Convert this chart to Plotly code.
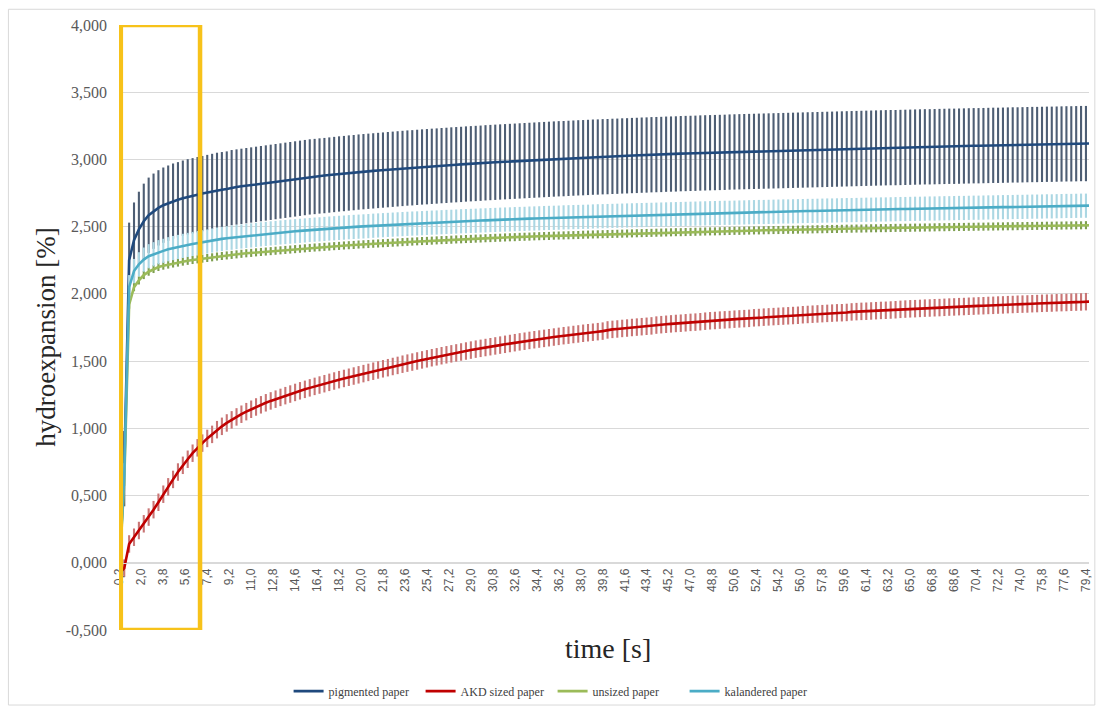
import plotly.graph_objects as go

# ---------------- data ----------------
TIME = [
    0.2, 0.6, 1.0, 1.4, 1.8, 2.2, 2.6, 3.0, 3.4, 3.8,
    4.2, 4.6, 5.0, 5.4, 5.8, 6.2, 6.6, 7.0, 7.4, 7.8,
    8.2, 8.6, 9.0, 9.4, 9.8, 10.2, 10.6, 11.0, 11.4, 11.8,
    12.2, 12.6, 13.0, 13.4, 13.8, 14.2, 14.6, 15.0, 15.4, 15.8,
    16.2, 16.6, 17.0, 17.4, 17.8, 18.2, 18.6, 19.0, 19.4, 19.8,
    20.2, 20.6, 21.0, 21.4, 21.8, 22.2, 22.6, 23.0, 23.4, 23.8,
    24.2, 24.6, 25.0, 25.4, 25.8, 26.2, 26.6, 27.0, 27.4, 27.8,
    28.2, 28.6, 29.0, 29.4, 29.8, 30.2, 30.6, 31.0, 31.4, 31.8,
    32.2, 32.6, 33.0, 33.4, 33.8, 34.2, 34.6, 35.0, 35.4, 35.8,
    36.2, 36.6, 37.0, 37.4, 37.8, 38.2, 38.6, 39.0, 39.4, 39.8,
    40.2, 40.6, 41.0, 41.4, 41.8, 42.2, 42.6, 43.0, 43.4, 43.8,
    44.2, 44.6, 45.0, 45.4, 45.8, 46.2, 46.6, 47.0, 47.4, 47.8,
    48.2, 48.6, 49.0, 49.4, 49.8, 50.2, 50.6, 51.0, 51.4, 51.8,
    52.2, 52.6, 53.0, 53.4, 53.8, 54.2, 54.6, 55.0, 55.4, 55.8,
    56.2, 56.6, 57.0, 57.4, 57.8, 58.2, 58.6, 59.0, 59.4, 59.8,
    60.2, 60.6, 61.0, 61.4, 61.8, 62.2, 62.6, 63.0, 63.4, 63.8,
    64.2, 64.6, 65.0, 65.4, 65.8, 66.2, 66.6, 67.0, 67.4, 67.8,
    68.2, 68.6, 69.0, 69.4, 69.8, 70.2, 70.6, 71.0, 71.4, 71.8,
    72.2, 72.6, 73.0, 73.4, 73.8, 74.2, 74.6, 75.0, 75.4, 75.8,
    76.2, 76.6, 77.0, 77.4, 77.8, 78.2, 78.6, 79.0, 79.4, 79.8,
]

PIGMENTED = [
    -0.05, 0.70, 2.25, 2.40, 2.48, 2.54, 2.585, 2.615, 2.64, 2.66,
    2.675, 2.69, 2.70, 2.712, 2.722, 2.73, 2.738, 2.746, 2.754, 2.762,
    2.77, 2.775, 2.78, 2.79, 2.795, 2.80, 2.805, 2.81, 2.815, 2.82,
    2.825, 2.83, 2.835, 2.84, 2.845, 2.85, 2.855, 2.86, 2.865, 2.87,
    2.873, 2.877, 2.88, 2.884, 2.888, 2.892, 2.895, 2.899, 2.902, 2.906,
    2.909, 2.912, 2.915, 2.918, 2.921, 2.924, 2.927, 2.93, 2.933, 2.936,
    2.938, 2.941, 2.944, 2.946, 2.949, 2.951, 2.954, 2.956, 2.959, 2.961,
    2.963, 2.966, 2.968, 2.970, 2.972, 2.975, 2.977, 2.979, 2.981, 2.983,
    2.985, 2.987, 2.989, 2.991, 2.993, 2.995, 2.997, 2.999, 3.001, 3.003,
    3.005, 3.006, 3.008, 3.010, 3.012, 3.013, 3.015, 3.017, 3.018, 3.020,
    3.021, 3.023, 3.024, 3.026, 3.027, 3.029, 3.030, 3.032, 3.033, 3.035,
    3.036, 3.037, 3.039, 3.040, 3.041, 3.043, 3.044, 3.045, 3.046, 3.048,
    3.049, 3.050, 3.051, 3.052, 3.053, 3.055, 3.056, 3.057, 3.058, 3.059,
    3.060, 3.061, 3.062, 3.063, 3.064, 3.065, 3.066, 3.067, 3.068, 3.069,
    3.070, 3.071, 3.072, 3.073, 3.074, 3.075, 3.076, 3.077, 3.078, 3.079,
    3.080, 3.081, 3.082, 3.083, 3.084, 3.085, 3.086, 3.087, 3.088, 3.088,
    3.089, 3.090, 3.091, 3.092, 3.093, 3.094, 3.094, 3.095, 3.096, 3.097,
    3.098, 3.098, 3.099, 3.100, 3.101, 3.102, 3.102, 3.103, 3.104, 3.105,
    3.105, 3.106, 3.107, 3.108, 3.108, 3.109, 3.110, 3.111, 3.111, 3.112,
    3.113, 3.113, 3.114, 3.115, 3.116, 3.116, 3.117, 3.118, 3.118, 3.119,
]

AKD_SIZED = [
    -0.08, -0.04, 0.14, 0.19, 0.24, 0.29, 0.34, 0.395, 0.45, 0.51,
    0.565, 0.62, 0.675, 0.725, 0.77, 0.815, 0.855, 0.89, 0.925, 0.955,
    0.99, 1.015, 1.04, 1.063, 1.085, 1.105, 1.124, 1.142, 1.159, 1.175,
    1.19, 1.204, 1.217, 1.23, 1.243, 1.255, 1.267, 1.279, 1.29, 1.301,
    1.312, 1.322, 1.332, 1.342, 1.352, 1.362, 1.371, 1.38, 1.389, 1.398,
    1.407, 1.416, 1.425, 1.434, 1.443, 1.451, 1.460, 1.468, 1.477, 1.485,
    1.493, 1.501, 1.509, 1.517, 1.525, 1.532, 1.540, 1.547, 1.554, 1.561,
    1.568, 1.575, 1.582, 1.589, 1.595, 1.601, 1.607, 1.613, 1.619, 1.625,
    1.631, 1.637, 1.643, 1.648, 1.654, 1.659, 1.664, 1.669, 1.674, 1.679,
    1.684, 1.689, 1.693, 1.698, 1.702, 1.707, 1.711, 1.715, 1.719, 1.723,
    1.732, 1.736, 1.739, 1.743, 1.746, 1.750, 1.753, 1.756, 1.759, 1.762,
    1.768, 1.771, 1.774, 1.777, 1.780, 1.782, 1.785, 1.788, 1.790, 1.793,
    1.797, 1.800, 1.802, 1.805, 1.807, 1.809, 1.812, 1.814, 1.816, 1.818,
    1.822, 1.824, 1.827, 1.829, 1.831, 1.833, 1.835, 1.837, 1.839, 1.841,
    1.845, 1.847, 1.849, 1.851, 1.853, 1.855, 1.857, 1.859, 1.860, 1.862,
    1.866, 1.868, 1.870, 1.871, 1.873, 1.875, 1.877, 1.878, 1.880, 1.882,
    1.885, 1.887, 1.889, 1.890, 1.892, 1.894, 1.895, 1.897, 1.898, 1.900,
    1.902, 1.903, 1.905, 1.906, 1.908, 1.909, 1.911, 1.912, 1.914, 1.915,
    1.917, 1.918, 1.920, 1.921, 1.923, 1.924, 1.925, 1.927, 1.928, 1.930,
    1.931, 1.932, 1.934, 1.935, 1.936, 1.938, 1.939, 1.940, 1.942, 1.943,
]

UNSIZED = [
    -0.05, 0.60, 1.92, 2.05, 2.10, 2.14, 2.165, 2.185, 2.20, 2.21,
    2.218, 2.226, 2.233, 2.24, 2.246, 2.252, 2.257, 2.262, 2.267, 2.272,
    2.278, 2.282, 2.286, 2.290, 2.294, 2.298, 2.302, 2.305, 2.309, 2.312,
    2.315, 2.318, 2.321, 2.324, 2.327, 2.330, 2.333, 2.336, 2.339, 2.342,
    2.345, 2.347, 2.350, 2.352, 2.355, 2.357, 2.360, 2.362, 2.364, 2.367,
    2.369, 2.371, 2.373, 2.375, 2.377, 2.379, 2.381, 2.383, 2.385, 2.387,
    2.389, 2.391, 2.393, 2.394, 2.396, 2.398, 2.400, 2.401, 2.403, 2.405,
    2.406, 2.408, 2.409, 2.411, 2.412, 2.414, 2.415, 2.417, 2.418, 2.420,
    2.421, 2.422, 2.424, 2.425, 2.426, 2.428, 2.429, 2.430, 2.431, 2.433,
    2.434, 2.435, 2.436, 2.437, 2.438, 2.440, 2.441, 2.442, 2.443, 2.444,
    2.445, 2.446, 2.447, 2.448, 2.449, 2.450, 2.451, 2.452, 2.453, 2.454,
    2.455, 2.456, 2.457, 2.458, 2.459, 2.459, 2.460, 2.461, 2.462, 2.463,
    2.464, 2.465, 2.465, 2.466, 2.467, 2.468, 2.469, 2.469, 2.470, 2.471,
    2.472, 2.472, 2.473, 2.474, 2.475, 2.475, 2.476, 2.477, 2.477, 2.478,
    2.479, 2.479, 2.480, 2.481, 2.481, 2.482, 2.483, 2.483, 2.484, 2.485,
    2.485, 2.486, 2.486, 2.487, 2.488, 2.488, 2.489, 2.489, 2.490, 2.491,
    2.491, 2.492, 2.492, 2.493, 2.493, 2.494, 2.494, 2.495, 2.496, 2.496,
    2.497, 2.497, 2.498, 2.498, 2.499, 2.499, 2.500, 2.500, 2.501, 2.501,
    2.502, 2.502, 2.503, 2.503, 2.504, 2.504, 2.505, 2.505, 2.506, 2.506,
    2.507, 2.507, 2.508, 2.508, 2.509, 2.509, 2.510, 2.510, 2.511, 2.511,
]

KALANDERED = [
    -0.05, 0.65, 2.05, 2.17, 2.22, 2.255, 2.28, 2.295, 2.31, 2.32,
    2.332, 2.341, 2.349, 2.357, 2.364, 2.371, 2.378, 2.384, 2.39, 2.397,
    2.404, 2.409, 2.414, 2.418, 2.423, 2.427, 2.431, 2.435, 2.439, 2.443,
    2.446, 2.450, 2.453, 2.457, 2.460, 2.463, 2.466, 2.469, 2.472, 2.475,
    2.478, 2.480, 2.483, 2.486, 2.488, 2.491, 2.493, 2.496, 2.498, 2.500,
    2.502, 2.504, 2.507, 2.509, 2.511, 2.513, 2.515, 2.517, 2.519, 2.521,
    2.523, 2.524, 2.526, 2.528, 2.530, 2.531, 2.533, 2.535, 2.536, 2.538,
    2.540, 2.541, 2.543, 2.544, 2.546, 2.547, 2.549, 2.550, 2.552, 2.553,
    2.554, 2.556, 2.557, 2.558, 2.560, 2.561, 2.562, 2.564, 2.565, 2.566,
    2.567, 2.569, 2.570, 2.571, 2.572, 2.573, 2.574, 2.576, 2.577, 2.578,
    2.579, 2.580, 2.581, 2.582, 2.583, 2.584, 2.585, 2.586, 2.587, 2.588,
    2.589, 2.590, 2.591, 2.592, 2.593, 2.594, 2.595, 2.596, 2.597, 2.598,
    2.599, 2.600, 2.601, 2.602, 2.603, 2.603, 2.604, 2.605, 2.606, 2.607,
    2.608, 2.609, 2.609, 2.610, 2.611, 2.612, 2.613, 2.613, 2.614, 2.615,
    2.616, 2.617, 2.617, 2.618, 2.619, 2.620, 2.620, 2.621, 2.622, 2.623,
    2.623, 2.624, 2.625, 2.626, 2.626, 2.627, 2.628, 2.628, 2.629, 2.630,
    2.631, 2.631, 2.632, 2.633, 2.633, 2.634, 2.635, 2.635, 2.636, 2.637,
    2.637, 2.638, 2.639, 2.639, 2.640, 2.641, 2.641, 2.642, 2.643, 2.643,
    2.644, 2.645, 2.645, 2.646, 2.647, 2.647, 2.648, 2.649, 2.649, 2.650,
    2.651, 2.651, 2.652, 2.653, 2.654, 2.654, 2.655, 2.656, 2.656, 2.657,
]

# error-bar half widths (standard deviations) per series
PIGMENTED_ERR = 0.28
AKD_SIZED_ERR = 0.065
UNSIZED_ERR = 0.03
KALANDERED_ERR = 0.09

SERIES_NAMES = ["pigmented paper", "AKD sized paper", "unsized paper", "kalandered paper"]

X_TICK_LABELS = [
    "0,2", "2,0", "3,8", "5,6", "7,4", "9,2", "11,0", "12,8", "14,6", "16,4",
    "18,2", "20,0", "21,8", "23,6", "25,4", "27,2", "29,0", "30,8", "32,6", "34,4",
    "36,2", "38,0", "39,8", "41,6", "43,4", "45,2", "47,0", "48,8", "50,6", "52,4",
    "54,2", "56,0", "57,8", "59,6", "61,4", "63,2", "65,0", "66,8", "68,6", "70,4",
    "72,2", "74,0", "75,8", "77,6", "79,4",
]
Y_TICK_LABELS = ["-0,500", "0,000", "0,500", "1,000", "1,500", "2,000",
                 "2,500", "3,000", "3,500", "4,000"]

# ---------------- styling ----------------
LINE_COLORS = ["#1F497D", "#C00000", "#9BBB59", "#4BACC6"]
ERR_COLORS = ["#4E5E74", "#C97575", "#7E9F50", "#ABD7E3"]
SERIF = "Liberation Serif, Times New Roman, serif"
SANS = "Liberation Sans, Arial, sans-serif"

fig = go.Figure()
series = [PIGMENTED, AKD_SIZED, UNSIZED, KALANDERED]
errs = [PIGMENTED_ERR, AKD_SIZED_ERR, UNSIZED_ERR, KALANDERED_ERR]
for name, ys, err, lc, ec in zip(SERIES_NAMES, series, errs, LINE_COLORS, ERR_COLORS):
    fig.add_trace(go.Scatter(
        x=TIME, y=ys, name=name, mode="lines",
        line=dict(color=lc, width=2.6),
        error_y=dict(type="constant", value=err, width=0, thickness=2.1, color=ec),
        hoverinfo="skip",
    ))

x_tickvals = [float(s.replace(",", ".")) for s in X_TICK_LABELS]
y_tickvals = [float(s.replace(",", ".")) for s in Y_TICK_LABELS]

Y_MIN, Y_MAX = -0.5, 4.0
X_MIN, X_MAX = 0.17, 79.65

fig.update_layout(
    width=1100, height=713,
    margin=dict(l=119, r=7, t=25, b=77),
    paper_bgcolor="white", plot_bgcolor="white",
    showlegend=True,
    legend=dict(
        orientation="h", x=0.447, xanchor="center", y=-0.101, yanchor="middle",
        font=dict(family=SERIF, size=12, color="#404040"),
        bgcolor="rgba(0,0,0,0)", itemwidth=30, tracegroupgap=0,
        entrywidth=87, entrywidthmode="pixels",
    ),
    xaxis=dict(
        range=[X_MIN, X_MAX], tickmode="array", tickvals=x_tickvals, ticktext=X_TICK_LABELS,
        tickangle=-90, tickfont=dict(family=SANS, size=12, color="#595959"),
        showgrid=False, zeroline=False, showline=True, linecolor="#D9D9D9", linewidth=1,
        anchor="free", position=(0 - Y_MIN) / (Y_MAX - Y_MIN), ticks="",
    ),
    yaxis=dict(
        range=[Y_MIN, Y_MAX], tickmode="array", tickvals=y_tickvals, ticktext=Y_TICK_LABELS,
        tickfont=dict(family=SERIF, size=16, color="#595959"),
        showgrid=True, gridcolor="#D9D9D9", gridwidth=1, zeroline=False,
        showline=False, ticks="", ticklabelstandoff=11,
    ),
    annotations=[
        dict(text="hydroexpansion [%]", xref="paper", yref="paper", x=-0.076, y=0.485,
             textangle=-90, showarrow=False, font=dict(family=SERIF, size=27, color="#262626"),
             xanchor="center", yanchor="middle"),
        dict(text="time [s]", xref="paper", yref="paper", x=0.504, y=-0.031,
             showarrow=False, font=dict(family=SERIF, size=28, color="#262626"),
             xanchor="center", yanchor="middle"),
    ],
    shapes=[
        # chart-area border
        dict(type="rect", xref="paper", yref="paper", x0=-0.114, x1=1.006, y0=-0.124, y1=1.026,
             line=dict(color="#D9D9D9", width=1), fillcolor="rgba(0,0,0,0)", layer="below"),
        # highlight box
        dict(type="rect", xref="x", yref="y", x0=0.32, x1=6.81, y0=-0.5, y1=4.0,
             line=dict(color="#F7C21A", width=4.5), fillcolor="rgba(0,0,0,0)", layer="above"),
    ],
)

fig.write_html("out.html")
